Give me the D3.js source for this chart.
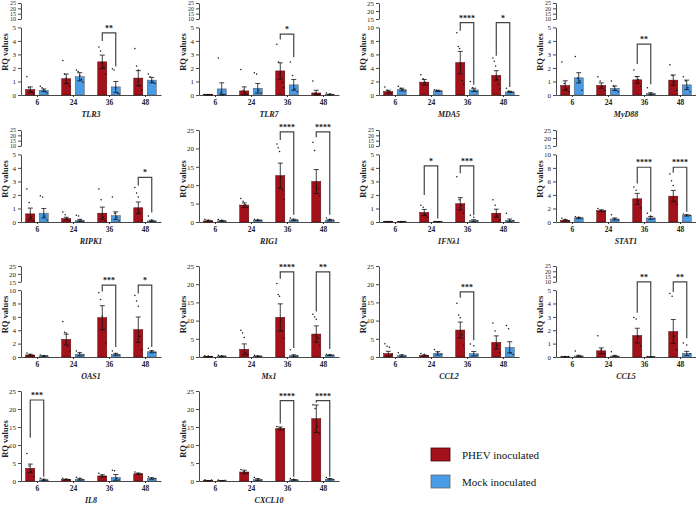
<!DOCTYPE html>
<html><head><meta charset="utf-8">
<script src="https://cdn.jsdelivr.net/npm/d3@7"></script>
<style>body{margin:0;background:#fff}svg{display:block}text{font-family:"Liberation Serif","Times New Roman",serif}</style>
</head><body><svg id="c" width="696" height="514"></svg>
<script>
const genes = ["TLR3","TLR7","MDA5","MyD88","RIPK1","RIG1","IFNλ1","STAT1","OAS1","Mx1","CCL2","CCL5","IL8","CXCL10"];
const times = [6, 24, 36, 48];
const seriesNames = ["PHEV inoculated", "Mock inoculated"];
const axisTypes = ["A","A","B","A","A","C","A","B","B","C","C","A","C","C"];

const phevMean = [
  [0.4,1.2,2.45,1.25],[0.02,0.3,1.78,0.15],[0.5,1.9,4.8,2.9],[0.7,0.7,1.12,1.1],
  [0.6,0.25,0.65,1.05],[0.3,4.6,12.6,11.0],[0.02,0.7,1.35,0.65],[0.25,1.67,3.43,3.82],
  [0.3,2.62,5.87,4.08],[0.1,2.1,10.9,6.3],[0.92,0.4,7.4,4.0],[0.01,0.46,1.6,1.9],
  [3.5,0.4,1.4,2.0],[0.1,2.5,14.6,17.3]];
const phevSem = [
  [0.2,0.35,0.5,0.55],[0.01,0.3,0.6,0.2],[0.2,0.4,1.65,0.7],[0.35,0.2,0.25,0.38],
  [0.43,0.1,0.45,0.43],[0.2,0.6,3.4,3.25],[0.01,0.23,0.45,0.3],[0.1,0.13,0.8,0.85],
  [0.12,0.8,1.8,1.9],[0.05,1.5,3.7,2.25],[0.65,0.15,2.2,1.8],[0.01,0.22,0.55,0.9],
  [1.2,0.1,0.3,0.2],[0.05,0.5,0.4,3.8]];
const mockMean = [
  [0.35,1.35,0.6,1.1],[0.45,0.5,0.75,0.03],[0.8,0.6,0.75,0.45],[1.27,0.5,0.1,0.75],
  [0.65,0.12,0.47,0.08],[0.3,0.45,0.55,0.5],[0.02,0.02,0.1,0.12],[0.59,0.45,0.6,0.98],
  [0.15,0.4,0.4,0.78],[0.2,0.2,0.35,0.5],[0.35,1.0,0.9,2.65],[0.08,0.07,0.01,0.27],
  [0.3,0.5,1.0,0.7],[0.1,0.4,0.3,0.5]];
const mockSem = [
  [0.1,0.3,0.4,0.2],[0.45,0.35,0.4,0.03],[0.2,0.1,0.25,0.1],[0.38,0.17,0.07,0.35],
  [0.35,0.08,0.28,0.05],[0.15,0.1,0.2,0.2],[0.01,0.01,0.07,0.1],[0.1,0.15,0.2,0.1],
  [0.05,0.22,0.15,0.15],[0.1,0.1,0.25,0.1],[0.25,0.45,0.6,1.55],[0.05,0.05,0.01,0.15],
  [0.2,0.25,0.8,0.2],[0.05,0.25,0.1,0.2]];

const phevDots = [
  [[1.3,0.5,0.3,0.2,0.1],[2.5,1.5,1.2,0.8,0.6],[3.5,3.2,2.3,2.0,1.5],[3.4,2.1,1.8,0.6,0.3]],
  [[0,0,0,0],[1.85,0.3,0.1,0],[3.7,2.4,1.5,0.9,0.5],[1.0,0.1,0,0]],
  [[1.1,0.6,0.4,0.2],[2.9,2.3,1.8,1.3],[9.1,7.1,6.8,4.5,2.0,1.5],[5.4,4.9,4.2,2.2,1.5,0.8]],
  [[2.4,0.8,0.4,0.2],[1.3,1.0,0.6,0.3],[1.8,1.3,1.1,0.6],[2.2,1.4,0.9,0.3]],
  [[2.4,1.4,0.3,0.05],[0.7,0.5,0.2,0.05],[2.4,1.6,0.3,0.05],[2.5,2.1,1.8,0.7,0.1]],
  [[0.6,0.3,0.1],[6.2,5.5,4.5,3.8],[21.0,20.0,19.0,12,8.5,6],[21.5,19.3,9.5,8.8,7]],
  [[0,0,0,0],[1.2,1.05,0.5,0.3],[3.3,1.6,1.2,0.6],[1.6,1.2,0.4,0.1]],
  [[0.45,0.3,0.1],[1.9,1.6,1.5],[5.1,4.6,3.0,2.0],[7.0,6.0,5.3,3.0,2.5]],
  [[0.5,0.3,0.1],[5.2,3.6,3.5,1.5,0.8],[9.5,8.5,6,4,2],[9.1,8.3,7.5,3,1]],
  [[0.2,0.1,0],[7.2,6.4,5.2,1,0.5],[20.0,17,16.5,10,7,5],[11.6,10.8,10.2,5,3]],
  [[3.5,2.8,2.5,0.3],[0.8,0.6,0.2],[14.6,11.4,10.6,6,3],[9.2,7.0,3,1]],
  [[0,0,0],[1.55,0.5,0.2],[2.9,2.8,1.5,0.8],[4.7,4.5,1.5,0.5]],
  [[7.5,4,2.5,1],[0.6,0.4,0.2],[2.0,1.5,1.0],[2.3,2.0,1.8]],
  [[0.2,0.1],[3.0,2.5,2.0],[15.0,14.6,14.2],[21,20,15,13]]];
const mockDots = [
  [[0.6,0.5,0.35,0.2,0.1],[1.8,1.7,1.4,1.1,0.9],[1.9,1.8,0.5,0.1,0.05],[1.5,1.3,1.0,0.9,0.8]],
  [[2.7,0.1,0,0],[1.6,1.5,0.3,0.1],[2.4,1.4,0.4,0.2],[0.1,0.05,0]],
  [[1.2,0.9,0.7,0.5],[0.7,0.6,0.55,0.5],[1.9,1.0,0.6,0.4],[0.9,0.5,0.4,0.3]],
  [[2.8,1.2,1.0,0.3],[1.0,0.6,0.3,0.2],[0.5,0.05,0.02],[1.3,1.0,0.5,0.2]],
  [[1.9,1.8,0.4,0.1],[0.45,0.4,0.1,0.02],[1.8,0.6,0.3,0.05],[0.4,0.1,0.02]],
  [[0.5,0.3,0.1],[0.6,0.5,0.4],[0.9,0.6,0.4],[0.9,0.6,0.4]],
  [[0,0,0,0],[0,0,0,0],[0.45,0.3,0.05],[0.6,0.1,0.05]],
  [[0.7,0.6,0.5],[1.0,0.4,0.2],[1.2,0.8,0.4],[1.1,1.0,0.9]],
  [[0.2,0.15,0.1],[0.8,0.6,0.2],[0.8,0.4,0.2],[1.2,0.8,0.6]],
  [[0.3,0.2,0.1],[0.3,0.2,0.1],[1.8,0.3,0.1],[0.6,0.5,0.4]],
  [[1.0,0.4,0.1],[1.9,1.2,0.5],[3.4,2.9,0.3],[8.5,7.6,1,0.5]],
  [[0.4,0.05,0],[0.35,0.05,0],[0,0,0],[1.0,0.85,0.2]],
  [[0.6,0.3,0.1],[0.9,0.5,0.2],[2.8,2.7,0.5,0.1],[1.0,0.7,0.5]],
  [[0.1,0.05],[0.8,0.3,0.1],[0.5,0.3,0.1],[0.8,0.5,0.3]]];

// significance brackets: [gene index, time, top value, left leg end, right leg end, label]
const brackets = [
  [0,36,4.6,4.0,2.1,"**"],
  [1,36,4.5,4.1,2.8,"*"],
  [2,36,12.8,9.5,1.5,"****"],[2,48,12.8,5.8,1.2,"*"],
  [3,36,3.76,2.3,0.8,"**"],
  [4,48,3.3,2.7,0.7,"*"],
  [5,36,24.5,22.3,2.0,"****"],[5,48,24.5,23.0,2.0,"****"],
  [6,24,4.15,2.0,0.25,"*"],[6,36,4.15,3.6,0.5,"***"],
  [7,36,8.1,5.7,1.5,"****"],[7,48,8.1,7.3,1.5,"****"],
  [8,36,13,9.8,1.5,"***"],[8,48,13,9.5,1.5,"*"],
  [9,36,23.4,21.5,2.5,"****"],[9,48,23.4,12.5,2.2,"**"],
  [10,36,17.9,16.3,4.6,"***"],
  [11,36,10,3.3,0.1,"**"],[11,48,10,4.85,1.4,"**"],
  [12,6,22.5,12,1.2,"***"],
  [13,36,22.3,16,1.2,"****"],[13,48,22.3,21.8,1.2,"****"]];

const colX = [21, 199, 379, 556];
const rowTop = [3, 130, 266, 391];
const rowBase = [95, 222, 357, 481];
const red = "#a3121a", blue = "#4a9be5";

const svg = d3.select("#c");

function makeY(type, top, base) {
  const H = base - top;
  if (type === "C") {
    return {scale: d3.scaleLinear().domain([0,25]).range([base,top]),
            segs: [{d:[0,25], ticks:[0,5,10,15,20,25], fs:7}]};
  }
  const lowTop = base - H*0.735, upBot = lowTop - H*0.091;
  const lowMax = type === "A" ? 5 : 10, upMin = type === "A" ? 10 : 15;
  const scale = d3.scaleLinear().domain([0,lowMax,upMin,25]).range([base,lowTop,upBot,top]);
  return {scale, segs: [
    {d:[0,lowMax], ticks: type === "A" ? [0,1,2,3,4,5] : [0,2,4,6,8,10], fs:7},
    {d:[upMin,25], ticks: type === "A" ? [10,15,20,25] : [15,20,25], fs: type === "A" ? 6 : 7}]};
}

const panels = [];
genes.forEach((g, i) => {
  const row = Math.floor(i/4), col = i % 4;
  const x0 = colX[col], top = rowTop[row], base = rowBase[row];
  const x = d3.scalePoint().domain(times).range([x0, x0+140]).padding(0.444);
  const xs = d3.scaleBand().domain(seriesNames).range([-11.25, 11.25]).paddingInner(0.33);
  const yo = makeY(axisTypes[i], top, base);
  const y = yo.scale;
  const gp = svg.append("g");
  panels.push({x, xs, y});

  // y axis segments
  yo.segs.forEach(s => {
    const sub = d3.scaleLinear().domain(s.d).range([y(s.d[0]), y(s.d[1])]);
    const ax = gp.append("g").attr("transform", `translate(${x0},0)`)
      .call(d3.axisLeft(sub).tickValues(s.ticks).tickFormat(d3.format("d"))
        .tickSize(3).tickSizeOuter(0).tickPadding(2));
    ax.select(".domain").attr("stroke", "#333").attr("stroke-width", 0.9);
    ax.selectAll(".tick line").attr("stroke", "#333").attr("stroke-width", 0.9);
    ax.selectAll("text").attr("font-size", s.fs).attr("fill", "#222")
      .style("font-family", '"Liberation Serif",serif');
  });
  // x axis
  const xa = gp.append("g").attr("transform", `translate(0,${base})`)
    .call(d3.axisBottom(x).tickSize(2).tickSizeOuter(0).tickPadding(3));
  xa.select(".domain").attr("stroke", "#333").attr("stroke-width", 0.9);
  xa.selectAll(".tick line").attr("stroke", "#333");
  xa.selectAll("text").attr("font-size", 7.5).attr("font-weight", "bold").attr("fill", "#222")
    .style("font-family", '"Liberation Serif",serif');

  // y label
  gp.append("text").attr("transform", `translate(${x0-13},${(top+base)/2+3}) rotate(-90)`)
    .attr("text-anchor", "middle").attr("font-size", 8.5).attr("font-weight", "bold")
    .attr("fill", "#222").text("RQ values");
  // gene label
  gp.append("text").attr("x", x0+70).attr("y", base+22).attr("text-anchor", "middle")
    .attr("font-size", 8).attr("font-weight", "bold").attr("font-style", "italic")
    .attr("fill", "#222").text(g);

  const series = [
    {name: seriesNames[0], mean: phevMean[i], sem: phevSem[i], dots: phevDots[i], color: red, stroke: "#4a0000"},
    {name: seriesNames[1], mean: mockMean[i], sem: mockSem[i], dots: mockDots[i], color: blue, stroke: "#555"}];
  const bw = xs.bandwidth();
  series.forEach(s => {
    times.forEach((t, j) => {
      const bx = x(t) + xs(s.name);
      const v = s.mean[j];
      gp.append("rect").attr("x", bx).attr("width", bw)
        .attr("y", y(v)).attr("height", Math.max(0, base - y(v)))
        .attr("fill", s.color).attr("stroke", s.stroke).attr("stroke-width", 0.5);
      const cx = bx + bw/2;
      const lo = Math.max(0, v - s.sem[j]), hi = v + s.sem[j];
      gp.append("path").attr("d", `M${cx},${y(lo)}V${y(hi)}M${cx-2.5},${y(hi)}H${cx+2.5}M${cx-2.5},${y(lo)}H${cx+2.5}`)
        .attr("stroke", "#111").attr("stroke-width", 0.8).attr("fill", "none");
      const d = s.dots[j], n = d.length;
      d.forEach((dv, k) => {
        gp.append("circle").attr("cx", cx + (k - (n-1)/2) * (bw*0.75/Math.max(n-1,1)))
          .attr("cy", y(dv) - 0.6).attr("r", 0.75).attr("fill", "#111");
      });
    });
  });
});

// brackets
brackets.forEach(([gi, t, topv, lv, rv, lab]) => {
  const {x, xs, y} = panels[gi];
  const bw = xs.bandwidth();
  const xl = x(t) + xs(seriesNames[0]) + bw/2, xr = x(t) + xs(seriesNames[1]) + bw/2;
  svg.append("path").attr("d", `M${xl},${y(lv)}V${y(topv)}H${xr}V${y(rv)}`)
    .attr("fill", "none").attr("stroke", "#444").attr("stroke-width", 1.2);
  svg.append("text").attr("x", (xl+xr)/2).attr("y", y(topv) - 2).attr("text-anchor", "middle")
    .attr("font-size", 8).attr("font-weight", "bold").attr("fill", "#111").text(lab);
});

// legend
const lg = svg.append("g");
seriesNames.forEach((n, k) => {
  lg.append("rect").attr("x", 431).attr("y", 448 + k*27).attr("width", 19).attr("height", 13)
    .attr("fill", k === 0 ? red : blue).attr("stroke", k === 0 ? "#4a0000" : "#666").attr("stroke-width", 0.8);
  lg.append("text").attr("x", 462).attr("y", 458.5 + k*27).attr("font-size", 11).attr("fill", "#111").text(n);
});
</script></body></html>
